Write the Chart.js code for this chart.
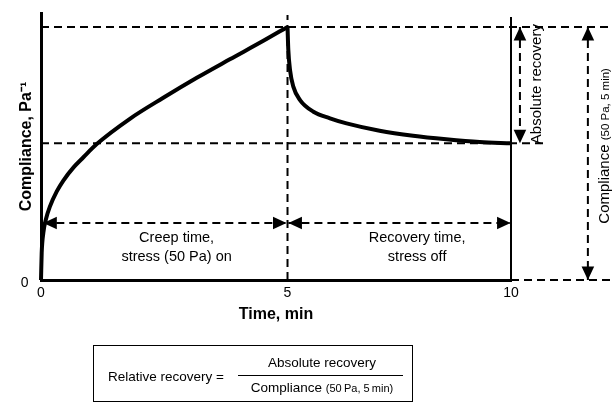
<!DOCTYPE html>
<html>
<head>
<meta charset="utf-8">
<script src="https://cdn.jsdelivr.net/npm/chart.js@4.4.1/dist/chart.umd.min.js"></script>
<style>
html,body{margin:0;padding:0;background:#fff;}
#wrap{width:613px;height:405px;position:relative;background:#fff;}
</style>
</head>
<body>
<div id="wrap"><canvas id="c" width="613" height="405"></canvas></div>
<script>
// ---- data (time in min, compliance in relative units) ----
const creepTime = [0, 0.014, 0.047, 0.10, 0.18, 0.32, 0.45, 0.66, 0.86, 1.13, 1.81, 2.48, 3.16, 3.83, 4.51, 5.0];
const creepCompliance = [0, 10.7, 18.6, 24.0, 29.0, 35.0, 39.2, 44.5, 48.5, 53.7, 63.8, 72.0, 79.9, 87.2, 94.5, 100];
const recoveryTime = [5.0, 5.018, 5.056, 5.13, 5.28, 5.58, 5.95, 6.32, 7.06, 7.81, 8.55, 9.30, 10];
const recoveryCompliance = [100, 90.9, 83.0, 76.4, 71.1, 66.5, 63.9, 61.9, 59.0, 57.0, 55.6, 54.5, 54.0];
const xTicks = [0, 5, 10];
const yTicks = [0];
const xTitle = 'Time, min';
const yTitle = 'Compliance, Pa\u207B\u00B9';
const creepLabel = ['Creep time,', 'stress (50 Pa) on'];
const recoveryLabel = ['Recovery time,', 'stress off'];
const absLabel = 'Absolute recovery';
const complianceLabel = ['Compliance ', '(50 Pa, 5 min)'];
const formulaLeft = 'Relative recovery =';
const formulaNum = 'Absolute recovery';
const formulaDen = ['Compliance ', '(50\u2009Pa, 5\u2009min)'];

// ---- derived key levels ----
const stressOff = creepTime[creepTime.length - 1];
const endTime = recoveryTime[recoveryTime.length - 1];
const peak = creepCompliance[creepCompliance.length - 1];
const recovered = recoveryCompliance[recoveryCompliance.length - 1];

// The drawing's time axis is not evenly spaced: 0-5 min is wider than 5-10 min.
const WARP_MID = 5, WARP_FRAC = 0.5245;
class WarpScale extends Chart.LinearScale {
  static id = 'warp';
  _dec(v) {
    const min = this.min, max = this.max;
    return v <= WARP_MID ? (v - min) / (WARP_MID - min) * WARP_FRAC
                         : WARP_FRAC + (v - WARP_MID) / (max - WARP_MID) * (1 - WARP_FRAC);
  }
  getPixelForValue(v) { return this.getPixelForDecimal(this._dec(v)); }
  getValueForPixel(p) {
    const d = this.getDecimalForPixel(p), min = this.min, max = this.max;
    return d <= WARP_FRAC ? min + d / WARP_FRAC * (WARP_MID - min)
                          : WARP_MID + (d - WARP_FRAC) / (1 - WARP_FRAC) * (max - WARP_MID);
  }
}
Chart.register(WarpScale);

const FONT = '"Liberation Sans", Arial, Helvetica, sans-serif';
Chart.defaults.font.family = FONT;
Chart.defaults.color = '#000';

const pts = (xs, ys) => xs.map((x, i) => ({x, y: ys[i]}));
const line = (data, w, dash) => ({
  data, borderColor: '#000', borderWidth: w, borderDash: dash || [],
  pointRadius: 0, fill: false, clip: false, tension: 0
});

// guide extents (annotation placement)
const rightEdge = 12.28, midGuideEnd = 10.76, topGuide = 104.7, endLineTop = 103.9;
const arrowLevel = 22.5, absArrowX = 10.2, complArrowX = 11.72;
const arrows = [
  {dir: 'h', at: arrowLevel, from: 0.047, to: stressOff - 0.02},
  {dir: 'h', at: arrowLevel, from: stressOff + 0.02, to: endTime - 0.01},
  {dir: 'v', at: absArrowX, from: peak, to: recovered},
  {dir: 'v', at: complArrowX, from: peak, to: 0}
];

const datasets = [
  line(pts([0, rightEdge], [peak, peak]), 2, [8, 5]),
  line(pts([0, midGuideEnd], [recovered, recovered]), 2, [8, 5]),
  line(pts([endTime, rightEdge], [0, 0]), 2, [8, 5]),
  line(pts([stressOff, stressOff], [0, topGuide]), 2, [8, 5]),
  line(pts([endTime, endTime], [0, endLineTop]), 2),
  ...arrows.map(a => a.dir === 'h'
      ? line(pts([a.from, a.to], [a.at, a.at]), 2, [8, 5])
      : line(pts([a.at, a.at], [a.from, a.to]), 2, [8, 5])),
  Object.assign(line(pts(creepTime, creepCompliance), 4), {cubicInterpolationMode: 'monotone', borderJoinStyle: 'round'}),
  Object.assign(line(pts(recoveryTime, recoveryCompliance), 4), {cubicInterpolationMode: 'monotone', borderJoinStyle: 'round'})
];

function head(ctx, tx, ty, dx, dy) {
  const L = 13.5, W = 6.3;
  const bx = tx - dx * L, by = ty - dy * L, px = -dy, py = dx;
  ctx.beginPath();
  ctx.moveTo(tx, ty);
  ctx.lineTo(bx + px * W, by + py * W);
  ctx.lineTo(bx - px * W, by - py * W);
  ctx.closePath();
  ctx.fill();
}

const annot = {
  id: 'annot',
  afterDatasetsDraw(chart) {
    const {ctx, scales: {x, y}} = chart;
    const X = v => x.getPixelForValue(v), Y = v => y.getPixelForValue(v);
    ctx.save();
    ctx.fillStyle = '#000';
    ctx.strokeStyle = '#000';
    for (const a of arrows) {
      if (a.dir === 'h') {
        head(ctx, X(a.from), Y(a.at), -1, 0);
        head(ctx, X(a.to), Y(a.at), 1, 0);
      } else {
        head(ctx, X(a.at), Y(a.from), 0, -1);
        head(ctx, X(a.at), Y(a.to), 0, 1);
      }
    }
    // phase labels
    ctx.textAlign = 'center';
    ctx.textBaseline = 'middle';
    ctx.font = '14.5px ' + FONT;
    ctx.fillText(creepLabel[0], X(2.75), Y(16.6));
    ctx.fillText(creepLabel[1], X(2.75), Y(9.1));
    ctx.fillText(recoveryLabel[0], X(7.9), Y(16.6));
    ctx.fillText(recoveryLabel[1], X(7.9), Y(9.1));
    // rotated: absolute recovery
    ctx.save();
    ctx.translate(X(10.68), Y(77.4));
    ctx.rotate(-Math.PI / 2);
    ctx.textBaseline = 'alphabetic';
    ctx.font = '15px ' + FONT;
    ctx.fillText(absLabel, 0, 0);
    ctx.restore();
    // rotated: compliance (50 Pa, 5 min)
    ctx.save();
    ctx.translate(X(12.19), Y(peak * 0.53));
    ctx.rotate(-Math.PI / 2);
    ctx.textBaseline = 'alphabetic';
    ctx.textAlign = 'left';
    const f1 = '15px ' + FONT, f2 = '11.5px ' + FONT;
    ctx.font = f1; const w1 = ctx.measureText(complianceLabel[0]).width;
    ctx.font = f2; const w2 = ctx.measureText(complianceLabel[1]).width;
    let sx = -(w1 + w2) / 2;
    ctx.font = f1; ctx.fillText(complianceLabel[0], sx, 0);
    ctx.font = f2; ctx.fillText(complianceLabel[1], sx + w1, 0);
    ctx.restore();
    ctx.restore();
  },
  afterDraw(chart) {
    const ctx = chart.ctx;
    ctx.save();
    ctx.strokeStyle = '#000';
    ctx.fillStyle = '#000';
    ctx.lineWidth = 1;
    ctx.strokeRect(93.5, 345.5, 319, 56);
    ctx.textBaseline = 'middle';
    ctx.textAlign = 'left';
    ctx.font = '13.5px ' + FONT;
    ctx.fillText(formulaLeft, 108, 377);
    ctx.beginPath();
    ctx.moveTo(238, 375.5); ctx.lineTo(403, 375.5);
    ctx.stroke();
    ctx.textAlign = 'center';
    ctx.fillText(formulaNum, 322, 363);
    const f1 = '13.5px ' + FONT, f2 = '11px ' + FONT;
    ctx.textAlign = 'left';
    ctx.textBaseline = 'alphabetic';
    ctx.font = f1; const w1 = ctx.measureText(formulaDen[0]).width;
    ctx.font = f2; const w2 = ctx.measureText(formulaDen[1]).width;
    const sx = 322 - (w1 + w2) / 2;
    ctx.font = f1; ctx.fillText(formulaDen[0], sx, 392);
    ctx.font = f2; ctx.fillText(formulaDen[1], sx + w1, 392);
    ctx.restore();
  }
};

const noPad = s => { s.paddingTop = 0; s.paddingBottom = 0; s.paddingLeft = 0; s.paddingRight = 0; };

new Chart(document.getElementById('c'), {
  type: 'line',
  data: {datasets},
  options: {
    responsive: false,
    animation: false,
    layout: {padding: {left: 0, right: 102, top: 13, bottom: 80}},
    plugins: {legend: {display: false}, tooltip: {enabled: false}},
    scales: {
      x: {
        type: 'warp', min: 0, max: 10, position: 'bottom',
        grid: {display: false, drawTicks: false},
        border: {display: true, width: 3, color: '#000'},
        ticks: {color: '#000', font: {size: 14}, padding: 4.6, maxRotation: 0, autoSkip: false},
        afterBuildTicks: s => { s.ticks = xTicks.map(v => ({value: v})); },
        afterFit: s => { s.height = 45; noPad(s); },
        title: {display: true, text: xTitle, color: '#000', font: {size: 16, weight: 'bold'}, padding: {top: 0, bottom: 0.4}}
      },
      y: {
        type: 'linear', min: 0, max: 105.5, position: 'left',
        grid: {display: false, drawTicks: false},
        border: {display: true, width: 3, color: '#000'},
        ticks: {color: '#000', font: {size: 14}, padding: 12.5, labelOffset: 3},
        afterBuildTicks: s => { s.ticks = yTicks.map(v => ({value: v})); },
        afterFit: s => { s.width = 41; noPad(s); },
        title: {display: true, text: yTitle, color: '#000', font: {size: 16, weight: 'bold'}, padding: {top: 17.4, bottom: 0}}
      }
    }
  },
  plugins: [annot]
});
</script>
</body>
</html>
